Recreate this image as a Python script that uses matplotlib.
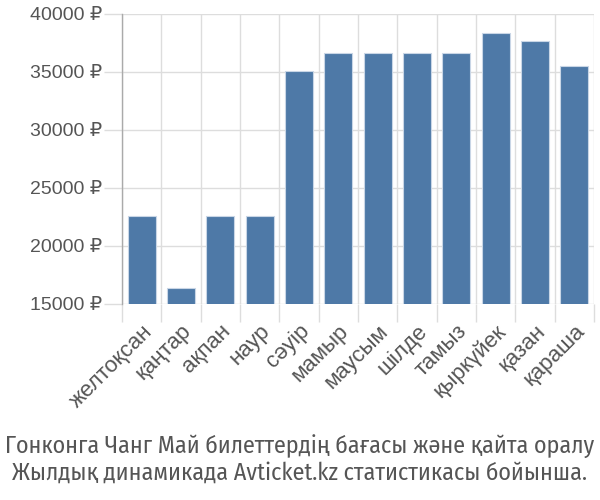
import matplotlib.pyplot as plt
import numpy as np

# month labels (Kazakh) and ticket prices
months = ["желтоқсан", "қаңтар", "ақпан", "наур", "сәуір", "мамыр",
          "маусым", "шілде", "тамыз", "қыркүйек", "қазан", "қараша"]
prices = [22600, 16350, 22600, 22600, 35100, 36650,
          36650, 36650, 36650, 38350, 37650, 35500]
yticks = [15000, 20000, 25000, 30000, 35000, 40000]
caption = ["Гонконга Чанг Май билеттердің бағасы және қайта оралу",
           "Жылдық динамикада Avticket.kz статистикасы бойынша."]

plt.rcParams['font.family'] = ['Liberation Sans', 'DejaVu Sans']

fig = plt.figure(figsize=(6, 5), dpi=100)
ax = fig.add_axes([122/600, 1 - 304/500, (594-122)/600, (304-14)/500])

x = np.arange(len(months))
ax.bar(x, prices, width=0.72, color="#4e79a7", edgecolor="#c9d6e6",
       linewidth=0.8, zorder=3)

ax.set_xlim(-0.5, len(months) - 0.5)
ax.set_ylim(15000, 40000)

ax.set_yticks(yticks)
ax.set_yticklabels([f"{v} ₽" for v in yticks], fontsize=14, color="#555555")
ax.set_xticks(x)
ax.set_xticklabels(months, rotation=45, ha="right", rotation_mode="anchor",
                   fontsize=16, color="#555555")
ax.set_xticks(np.arange(-0.5, len(months)), minor=True)

ax.tick_params(axis="x", which="major", length=0, pad=12)
ax.tick_params(axis="x", which="minor", length=13, color="#dddddd", width=1)
ax.tick_params(axis="y", length=13, color="#dddddd", width=1, pad=1.5)

ax.grid(axis="y", color="#dddddd", linewidth=1, zorder=0)
ax.grid(axis="x", which="minor", color="#dddddd", linewidth=1, zorder=0)

for s in ["top", "right", "bottom"]:
    ax.spines[s].set_visible(False)
ax.spines["left"].set_color("#aaaaaa")
ax.spines["left"].set_linewidth(1)

for line, yb in zip(caption, [1 - 453/500, 1 - 480/500]):
    fig.text(0.5, yb, line, ha="center", va="baseline", fontsize=17.3,
             color="#555555", family=["Fira Sans Condensed", "DejaVu Sans"])

fig.savefig("out.png", dpi=100, facecolor="white")
